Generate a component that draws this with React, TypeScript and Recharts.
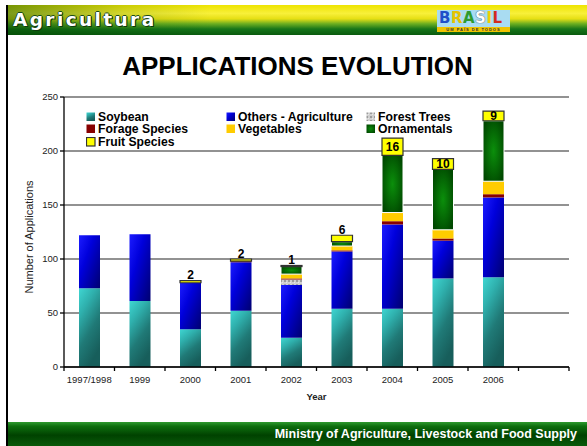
import React from 'react';
import { BarChart, Bar, XAxis, YAxis, CartesianGrid, Legend, LabelList } from 'recharts';

const years = ['1997/1998', '1999', '2000', '2001', '2002', '2003', '2004', '2005', '2006', ''];
const soybean = [73, 61, 35, 52, 27, 54, 54, 82, 83, 0];
const othersAgriculture = [49, 62, 43, 45, 49, 53, 78, 35, 74, 0];
const forestTrees = [0, 0, 0, 0, 5, 0, 0, 0, 0, 0];
const forageSpecies = [0, 0, 0, 1, 1, 1, 3, 2, 3, 0];
const vegetables = [0, 0, 0, 0, 4, 4, 8, 8, 12, 0];
const ornamentals = [0, 0, 0, 0, 7, 4, 53, 56, 56, 0];
const fruitSpecies = [0, 0, 2, 2, 1, 6, 16, 10, 9, 0];
const yTicks = [0, 50, 100, 150, 200, 250];
const seriesNames = ['Soybean', 'Others - Agriculture', 'Forest Trees', 'Forage Species', 'Vegetables', 'Ornamentals', 'Fruit Species'];

const data = years.map((year, i) => ({
  year,
  soybean: soybean[i],
  others: othersAgriculture[i],
  forest: forestTrees[i],
  forage: forageSpecies[i],
  vegetables: vegetables[i],
  ornamentals: ornamentals[i],
  fruit: fruitSpecies[i],
}));

const FONT = '"Liberation Sans", Arial, Helvetica, sans-serif';
const TICK_MARGIN = 9;

function CategoryTick(props: any) {
  const { x, y, payload, index, visibleTicksCount } = props;
  const half = payload && payload.offset > 0 ? payload.offset : 25.25;
  const axisY = y - TICK_MARGIN;
  return (
    <g>
      <line x1={x - half} x2={x - half} y1={axisY} y2={axisY + 4} stroke="#000" strokeWidth={1.3} />
      {index === visibleTicksCount - 1 && (
        <line x1={x + half} x2={x + half} y1={axisY} y2={axisY + 4} stroke="#000" strokeWidth={1.3} />
      )}
      <text x={x} y={y} dy="0.71em" textAnchor="middle" fontSize={9.5} fill="#222" fontFamily={FONT}>
        {payload.value}
      </text>
    </g>
  );
}

function FruitLabel(props: any) {
  const { x, y, width, height, value } = props;
  if (!value) return null;
  const cx = Number(x) + Number(width) / 2;
  if (Number(height) >= 9) {
    return (
      <text x={cx} y={Number(y) + Number(height) / 2} dy="0.36em" textAnchor="middle" fontSize={12} fontWeight={700} fill="#000" fontFamily={FONT}>
        {value}
      </text>
    );
  }
  return (
    <text x={cx} y={Number(y) - 1.5} textAnchor="middle" fontSize={12} fontWeight={700} fill="#000" fontFamily={FONT}>
      {value}
    </text>
  );
}

function LegendContent(props: any) {
  const payload: any[] = [...(props.payload || [])];
  payload.sort((a, b) => seriesNames.indexOf(a.value) - seriesNames.indexOf(b.value));
  return (
    <div
      style={{
        display: 'grid',
        gridTemplateColumns: '140px 140px 140px',
        fontFamily: FONT,
        fontWeight: 700,
        fontSize: 12.2,
        lineHeight: '12.3px',
        color: '#000',
      }}
    >
      {payload.map((e: any) => (
        <div key={e.value} style={{ display: 'flex', alignItems: 'center', whiteSpace: 'nowrap', height: 12.3 }}>
          <svg width={10} height={10} style={{ marginRight: 2, flex: 'none' }}>
            <rect
              x={0.5}
              y={0.5}
              width={8.5}
              height={8.5}
              fill={e.color}
              stroke={e.value === 'Fruit Species' ? '#333' : 'none'}
              strokeWidth={1.2}
            />
          </svg>
          <span>{e.value}</span>
        </div>
      ))}
    </div>
  );
}

function YLabel(props: any) {
  const vb = props.viewBox || { x: 0, y: 97, width: 64, height: 270 };
  const cx = vb.x + 29;
  const cy = vb.y + vb.height / 2 + 5;
  return (
    <text x={cx} y={cy} transform={`rotate(-90 ${cx} ${cy})`} textAnchor="middle" dominantBaseline="central" fontSize={11} fill="#222" fontFamily={FONT}>
      Number of Applications
    </text>
  );
}

function XLabel(props: any) {
  const vb = props.viewBox || { x: 64, y: 367, width: 505, height: 40 };
  return (
    <text x={vb.x + vb.width / 2} y={vb.y + 32.5} textAnchor="middle" fontSize={9.5} fontWeight={700} fill="#222" fontFamily={FONT}>
      Year
    </text>
  );
}

export default function App() {
  return (
    <div style={{ position: 'absolute', left: 0, top: 0, width: 587, height: 446, background: '#fff', overflow: 'hidden', fontFamily: FONT }}>
      {/* left frame line */}
      <div style={{ position: 'absolute', left: 6, top: 5, width: 2, height: 441, background: '#000' }} />
      {/* header */}
      <div
        style={{
          position: 'absolute',
          left: 8,
          top: 5,
          width: 579,
          height: 30,
          background:
            'linear-gradient(to right, rgba(0,70,0,0.5) 0%, rgba(0,70,0,0.15) 20%, rgba(0,70,0,0) 35%), linear-gradient(to bottom, #eee400 0%, #f8f03a 28%, #e6df14 46%, #6fb020 62%, #16761a 80%, #0a5a0e 100%)',
        }}
      />
      <div
        style={{
          position: 'absolute',
          left: 13,
          top: 9,
          fontFamily: '"DejaVu Sans", Verdana, sans-serif',
          fontWeight: 700,
          fontSize: 18.5,
          letterSpacing: 2.4,
          color: '#fff',
          lineHeight: '22px',
          textShadow: '1px 1px 0 #0b3b0b, -1px 0 0 #1a4a1a, 0 -1px 0 #1a4a1a, 1px 0 0 #1a4a1a',
        }}
      >
        Agricultura
      </div>
      {/* Brasil logo */}
      <div style={{ position: 'absolute', left: 437, top: 10, width: 73, height: 22, background: '#a9dcf2' }}>
        <div
          style={{
            position: 'absolute',
            left: 2,
            top: 0,
            width: 71,
            fontFamily: '"DejaVu Sans", sans-serif',
            fontWeight: 900,
            fontSize: 15,
            lineHeight: '17px',
            letterSpacing: 0.5,
            whiteSpace: 'nowrap',
          }}
        >
          <span style={{ color: '#1f4fc9' }}>B</span>
          <span style={{ color: '#e6c200' }}>R</span>
          <span style={{ color: '#2e9a2e' }}>A</span>
          <span style={{ color: '#ffffff', textShadow: '0 0 1px #000' }}>S</span>
          <span style={{ color: '#f2d000' }}>I</span>
          <span style={{ color: '#d32a1e' }}>L</span>
        </div>
        <div
          style={{
            position: 'absolute',
            left: 0,
            top: 17,
            width: 73,
            height: 5,
            background: '#f0c400',
            fontSize: 4,
            lineHeight: '5px',
            fontWeight: 700,
            color: '#333',
            textAlign: 'center',
            letterSpacing: 1,
            overflow: 'hidden',
          }}
        >
          UM PAÍS DE TODOS
        </div>
      </div>
      {/* title */}
      <div
        style={{
          position: 'absolute',
          left: 8,
          top: 51,
          width: 579,
          textAlign: 'center',
          fontFamily: FONT,
          fontWeight: 700,
          fontSize: 26,
          lineHeight: '30px',
          color: '#000',
        }}
      >
        APPLICATIONS EVOLUTION
      </div>
      {/* chart */}
      <div style={{ position: 'absolute', left: 0, top: 0, width: 587, height: 446 }}>
        <BarChart width={587} height={446} data={data} margin={{ top: 97, right: 18, left: 0, bottom: 39 }} barSize={21}>
          <defs>
            <linearGradient id="gSoy" x1="0" y1="0" x2="0.45" y2="1">
              <stop offset="0%" stopColor="#3fd6d2" />
              <stop offset="30%" stopColor="#2fb0ad" />
              <stop offset="65%" stopColor="#207a77" />
              <stop offset="100%" stopColor="#175e5b" />
            </linearGradient>
            <linearGradient id="gOthers" x1="0" y1="0" x2="1" y2="0.9">
              <stop offset="0%" stopColor="#1c1cff" />
              <stop offset="40%" stopColor="#0000dc" />
              <stop offset="100%" stopColor="#000078" />
            </linearGradient>
            <radialGradient id="gOrn" cx="0.5" cy="0.5" r="0.6">
              <stop offset="0%" stopColor="#0b8f0b" />
              <stop offset="100%" stopColor="#004800" />
            </radialGradient>
            <pattern id="pForest" width="4" height="4" patternUnits="userSpaceOnUse">
              <rect x="0" y="0" width="4" height="4" fill="#cfcfcf" />
              <rect x="0" y="0" width="2" height="2" fill="#9c9c9c" />
              <rect x="2" y="2" width="1" height="1" fill="#e8e8e8" />
            </pattern>
          </defs>
          <CartesianGrid vertical={false} stroke="#6e6e6e" strokeWidth={1.4} />
          <XAxis
            dataKey="year"
            interval={0}
            height={40}
            tickSize={0}
            tickMargin={TICK_MARGIN}
            tickLine={false}
            axisLine={{ stroke: '#000', strokeWidth: 1.5 }}
            tick={<CategoryTick />}
            label={<XLabel />}
          />
          <YAxis
            width={64}
            domain={[0, 250]}
            ticks={yTicks}
            interval={0}
            tickSize={4}
            tickMargin={2}
            axisLine={{ stroke: '#000', strokeWidth: 1.3 }}
            tickLine={{ stroke: '#000', strokeWidth: 1.3 }}
            tick={{ fontSize: 9.5, fill: '#222', fontFamily: FONT }}
            label={<YLabel />}
          />
          <Legend
            layout="horizontal"
            verticalAlign="middle"
            content={<LegendContent />}
            wrapperStyle={{ left: 86, top: 111, width: 440, height: 38 }}
          />
          <Bar dataKey="soybean" name="Soybean" stackId="a" fill="url(#gSoy)" isAnimationActive={false} />
          <Bar dataKey="others" name="Others - Agriculture" stackId="a" fill="url(#gOthers)" isAnimationActive={false} />
          <Bar dataKey="forest" name="Forest Trees" stackId="a" fill="url(#pForest)" isAnimationActive={false} />
          <Bar dataKey="forage" name="Forage Species" stackId="a" fill="#870000" isAnimationActive={false} />
          <Bar dataKey="vegetables" name="Vegetables" stackId="a" fill="#ffcc00" isAnimationActive={false} />
          <Bar dataKey="ornamentals" name="Ornamentals" stackId="a" fill="url(#gOrn)" stroke="#ffffff" strokeWidth={1} isAnimationActive={false} />
          <Bar dataKey="fruit" name="Fruit Species" stackId="a" fill="#ffff00" stroke="#333" strokeWidth={1.2} isAnimationActive={false}>
            <LabelList dataKey="fruit" content={<FruitLabel />} />
          </Bar>
        </BarChart>
      </div>
      {/* footer */}
      <div
        style={{
          position: 'absolute',
          left: 8,
          top: 422,
          width: 579,
          height: 24,
          background: 'linear-gradient(to bottom, #2f9a2f 0%, #0e6e0e 18%, #004200 55%, #0a5a0a 100%)',
        }}
      />
      <div
        style={{
          position: 'absolute',
          right: 10,
          top: 426,
          fontFamily: FONT,
          fontWeight: 700,
          fontSize: 12.5,
          lineHeight: '16px',
          color: '#fff',
          whiteSpace: 'nowrap',
        }}
      >
        Ministry of Agriculture, Livestock and Food Supply
      </div>
    </div>
  );
}
